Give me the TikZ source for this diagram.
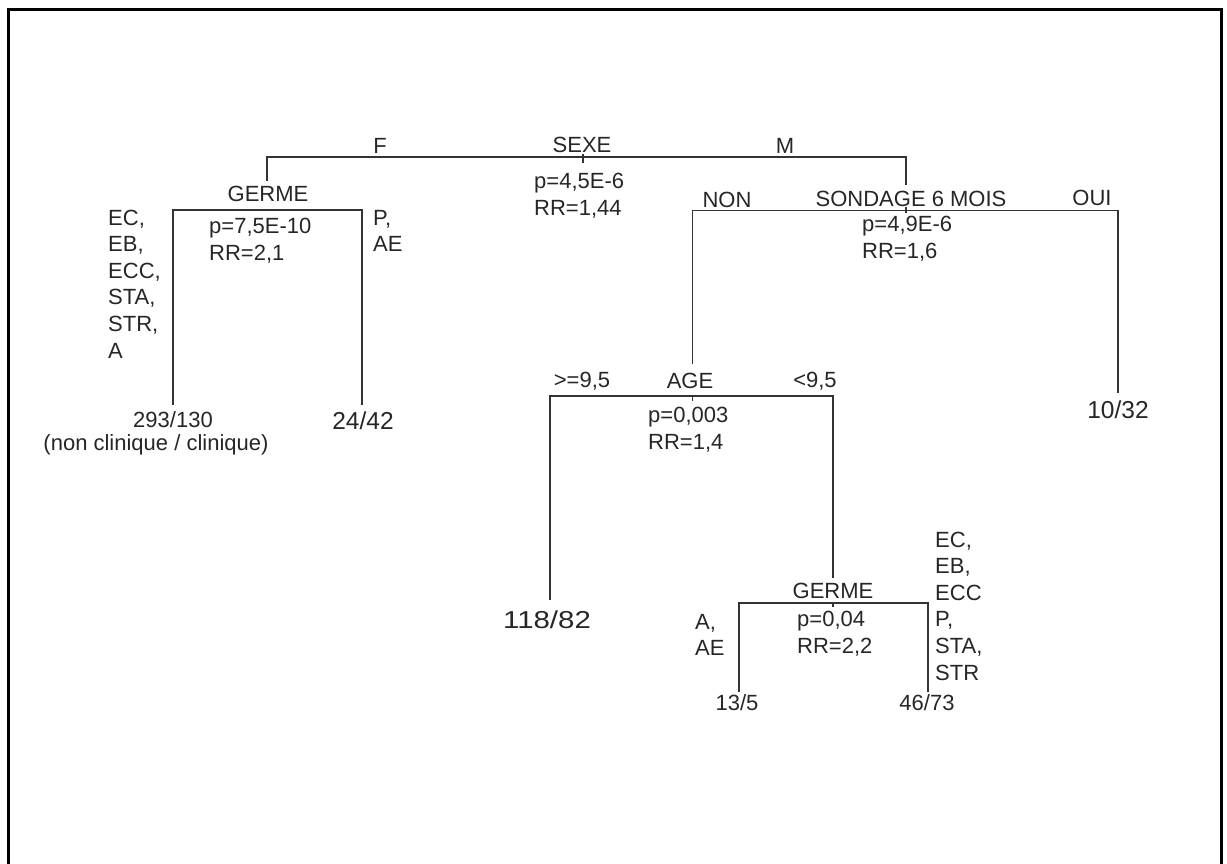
\documentclass[tikz,border=0pt]{standalone}
\usepackage{fontspec}
\setmainfont{Liberation Sans}
\usepackage{graphicx}
\newcommand{\widetxt}[1]{\scalebox{1.2}[1]{#1}}
\begin{document}
\begin{tikzpicture}[x=1pt,y=-1pt,
  lbl/.style={font=\fontsize{22}{26.6}\selectfont, inner sep=0pt, text=black!85},
  blk/.style={lbl, align=left, anchor=west},
  leafbig/.style={font=\fontsize{24.5}{28}\selectfont, inner sep=0pt, text=black!85},
  edge/.style={line width=1.5pt, draw=black!80},
  tick/.style={line width=1.2pt, draw=black!80},
  frame/.style={line width=3pt, draw=black}]
\useasboundingbox (0,0) rectangle (1227,863);
\coordinate (fbl) at (8.5,880);
\coordinate (ftl) at (8.5,9.5);
\coordinate (ftr) at (1221,9.5);
\coordinate (fbr) at (1221,880);
\draw[frame] (fbl) -- (ftl) -- (ftr) -- (fbr);

% ---- root: SEXE
\node[lbl] (sexe) at (582,145) {SEXE};
\node[lbl] (f) at (380,146) {F};
\node[lbl] (m) at (785,146) {M};
\node[blk] (sexestat) at (534,196) {p=4,5E-6\\RR=1,44};
\coordinate (sL) at (267,157);
\coordinate (sR) at (906,157);
\coordinate (sT) at (583,154);

% ---- GERME (left)
\node[lbl, outer sep=5pt] (germeA) at (268,194) {GERME};
\node[blk] (germeAstat) at (209,241) {p=7,5E-10\\RR=2,1};
\node[blk] (listA) at (108,284) {EC,\\EB,\\ECC,\\STA,\\STR,\\A};
\node[blk] (paeA) at (373,231) {P,\\AE};
\coordinate (gAL) at (173,210);
\coordinate (gAR) at (362,210);
\node[lbl, outer sep=7pt] (leafA) at (173,420) {293/130};
\node[lbl] (leafAnote) at (156,445) {(non clinique / clinique)};
\node[leafbig, outer sep=7pt] (leafB) at (363,421) {24/42};

% ---- SONDAGE 6 MOIS
\node[lbl, outer sep=6pt] (sond) at (911,199) {SONDAGE 6 MOIS};
\node[lbl] (non) at (727,200) {NON};
\node[lbl] (oui) at (1092,198) {OUI};
\node[blk] (sondstat) at (862,238.5) {p=4,9E-6\\RR=1,6};
\coordinate (dL) at (692.5,210.5);
\coordinate (dR) at (1118,210.5);
\coordinate (dT) at (906,207);
\node[leafbig, outer sep=8pt] (leafC) at (1118,410) {10/32};

% ---- AGE
\node[lbl, outer sep=9pt] (age) at (690,381) {AGE};
\node[lbl] (ge) at (582,381) {>=9,5};
\node[lbl] (lt) at (815,381) {<9,5};
\node[blk] (agestat) at (648,430) {p=0,003\\RR=1,4};
\coordinate (aL) at (550,396);
\coordinate (aR) at (833,396);
\coordinate (aT) at (692.5,396);
\node[leafbig, outer sep=11pt] (leafD) at (547,620) {\widetxt{118/82}};

% ---- GERME (bottom)
\node[lbl, outer sep=5pt] (germeB) at (833,591) {GERME};
\node[blk] (germeBstat) at (797,633.5) {p=0,04\\RR=2,2};
\node[blk] (aae) at (695,635) {A,\\AE};
\node[blk] (listB) at (935,606) {EC,\\EB,\\ECC\\P,\\STA,\\STR};
\coordinate (gBL) at (739,603);
\coordinate (gBR) at (928,603);
\coordinate (gBT) at (833,603);
\node[lbl, outer sep=3pt] (leafE) at (737,703) {13/5};
\node[lbl, outer sep=3pt] (leafF) at (927,703) {46/73};

% ---- connectors
\draw[edge] (sL |- germeA.north) -- (sL) -- (sR) -- (sR |- sond.north);
\draw[tick] (sT) -- ++(0,9);
\draw[edge] (gAL |- leafA.north) -- (gAL) -- (gAR) -- (gAR |- leafB.north);
\draw[edge] (dL |- age.north) -- (dL) -- (dR) -- (dR |- leafC.north);
\draw[tick] (dT) -- ++(0,6);
\draw[edge] (aL |- leafD.north) -- (aL) -- (aR) -- (aR |- germeB.north);
\draw[tick] (aT) -- ++(0,5);
\draw[edge] (gBL |- leafE.north) -- (gBL) -- (gBR) -- (gBR |- leafF.north);
\draw[tick] (gBT) -- ++(0,4);
\end{tikzpicture}
\end{document}
